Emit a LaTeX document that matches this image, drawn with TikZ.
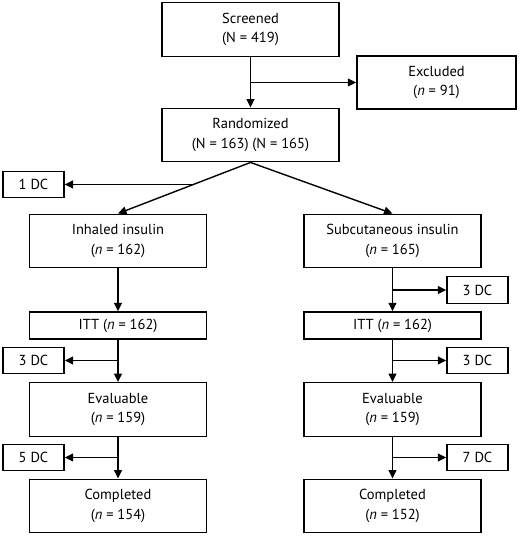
\documentclass[tikz,border=0pt]{standalone}
\usepackage{fontspec}
\setmainfont{PT Sans}
\usetikzlibrary{arrows.meta,calc}
\begin{document}
\begin{tikzpicture}[x=1pt,y=-1pt,
  box/.style={draw,line width=1.4pt,rectangle,inner sep=0pt,align=center,
    font=\fontsize{14.5}{19.5}\selectfont},
  bigbox/.style={box,minimum width=177pt,minimum height=53.5pt},
  thinbox/.style={box,minimum width=177pt,minimum height=27pt},
  dcbox/.style={box,minimum width=61pt,minimum height=26.5pt},
  conn/.style={line width=1.4pt,-{Triangle[length=8.5pt,width=8pt]}}]
\useasboundingbox (0,0) rectangle (520,537);
\node[bigbox] (scr) at (250.5,29.5) {Screened\\(N = 419)};
\node[box,minimum width=159pt,minimum height=53pt] (exc) at (436.5,82.5) {Excluded\\(\textit{n} = 91)};
\node[bigbox] (ran) at (250.5,135) {Randomized\\(N = 163) (N = 165)};
\node[dcbox] (dc1) at (33.5,184.5) {1 DC};
\node[bigbox] (inh) at (118,241) {Inhaled insulin\\(\textit{n} = 162)};
\node[bigbox] (sub) at (392.5,241) {Subcutaneous insulin\\(\textit{n} = 165)};
\node[thinbox] (ittl) at (118,325.5) {ITT (\textit{n} = 162)};
\node[thinbox] (ittr) at (392.5,325.5) {ITT (\textit{n} = 162)};
\node[dcbox] (dcr1) at (477.5,290) {3 DC};
\node[dcbox] (dcl2) at (33.5,360.5) {3 DC};
\node[dcbox] (dcr2) at (477.5,360.5) {3 DC};
\node[bigbox] (evl) at (118,409.5) {Evaluable\\(\textit{n} = 159)};
\node[bigbox] (evr) at (392.5,409.5) {Evaluable\\(\textit{n} = 159)};
\node[dcbox] (dcl3) at (33.5,457.5) {5 DC};
\node[dcbox] (dcr3) at (477.5,457.5) {7 DC};
\node[bigbox] (coml) at (118,506) {Completed\\(\textit{n} = 154)};
\node[bigbox] (comr) at (392.5,506) {Completed\\(\textit{n} = 152)};
% connectors
\draw[conn] (scr.south) -- (ran.north);
\coordinate (b0) at (scr.south |- exc.west);
\draw[conn] (b0) -- (exc.west);
\draw[conn] (ran.south) -- (inh.north);
\draw[conn] (ran.south) -- (sub.north);
\coordinate (b1) at ($(ran.south)!0.43!(inh.north)$);
\draw[conn] (b1) -- (b1 -| dc1.east);
\draw[conn] (inh.south) -- (ittl.north);
\draw[conn] (sub.south) -- (ittr.north);
\coordinate (b2) at (sub.south |- dcr1.west);
\draw[conn] (b2) -- (dcr1.west);
\draw[conn] (ittl.south) -- (evl.north);
\coordinate (b3) at (ittl.south |- dcl2.east);
\draw[conn] (b3) -- (dcl2.east);
\draw[conn] (ittr.south) -- (evr.north);
\coordinate (b4) at (ittr.south |- dcr2.west);
\draw[conn] (b4) -- (dcr2.west);
\draw[conn] (evl.south) -- (coml.north);
\coordinate (b5) at (evl.south |- dcl3.east);
\draw[conn] (b5) -- (dcl3.east);
\draw[conn] (evr.south) -- (comr.north);
\coordinate (b6) at (evr.south |- dcr3.west);
\draw[conn] (b6) -- (dcr3.west);
\end{tikzpicture}
\end{document}
